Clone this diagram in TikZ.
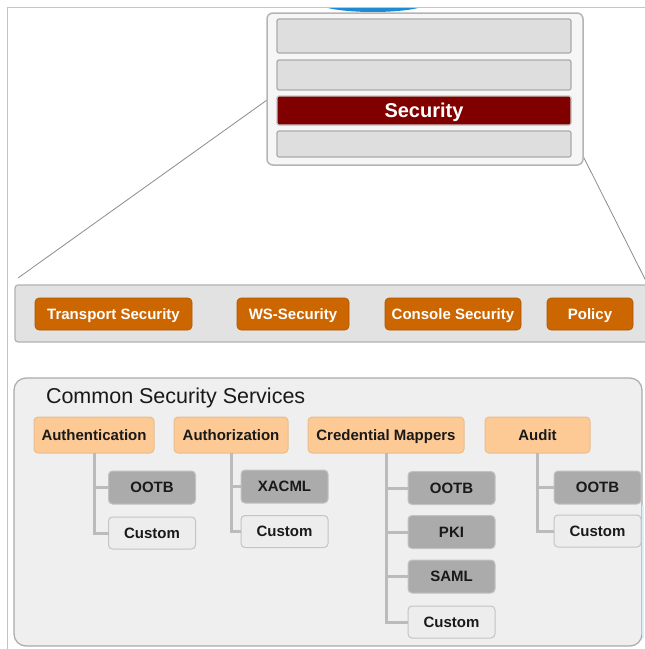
\documentclass[tikz,border=0pt]{standalone}
\usepackage{fontspec}
\setmainfont{Liberation Sans}
\definecolor{frameg}{HTML}{C4C4C4}
\definecolor{outerfill}{HTML}{F6F6F6}
\definecolor{outerline}{HTML}{B4B4B4}
\definecolor{barfill}{HTML}{DEDEDE}
\definecolor{barline}{HTML}{ABABAB}
\definecolor{secred}{HTML}{800000}
\definecolor{bandfill}{HTML}{E2E2E2}
\definecolor{bandline}{HTML}{B2B2B2}
\definecolor{btnorange}{HTML}{CC6600}
\definecolor{panelfill}{HTML}{EFEFEF}
\definecolor{panelline}{HTML}{AAAAAA}
\definecolor{peach}{HTML}{FDC995}
\definecolor{peachline}{HTML}{E8BE90}
\definecolor{darkchild}{HTML}{ABABAB}
\definecolor{darkchildline}{HTML}{C2C2C2}
\definecolor{lightchild}{HTML}{EDEDED}
\definecolor{lightchildline}{HTML}{C4C4C4}
\definecolor{conn}{HTML}{BBBBBB}
\definecolor{zoomline}{HTML}{8C8C8C}
\definecolor{arcblue}{HTML}{1E8CD2}
\tikzset{
  every node/.style={inner sep=0pt, outer sep=0pt},
  boldtext/.style={font=\fontsize{15}{18}\selectfont\bfseries, text height=10.7pt, text depth=0pt},
  barbox/.style={draw=barline, line width=1.2pt, fill=barfill, rounded corners=2pt, minimum width=294pt},
  btnbox/.style={boldtext, fill=btnorange, draw=btnorange!85!black, line width=0.6pt, rounded corners=4pt, minimum height=32pt, text=white},
  parentbox/.style={boldtext, fill=peach, draw=peachline, line width=1pt, rounded corners=4pt, minimum height=36pt, text=black!90},
  darkbox/.style={boldtext, fill=darkchild, draw=darkchildline, line width=1pt, rounded corners=4pt, minimum width=87pt, minimum height=33pt, text=black!90},
  lightbox/.style={boldtext, fill=lightchild, draw=lightchildline, line width=1pt, rounded corners=4pt, minimum width=87pt, minimum height=32pt, text=black!90},
  connector/.style={draw=conn, line width=3pt},
  zoomedge/.style={draw=zoomline, line width=0.8pt}
}
\begin{document}
\begin{tikzpicture}[x=1pt,y=-1pt]
\useasboundingbox (0,0) rectangle (645,649);
\clip (0,0) rectangle (645,649);
\fill[white] (0,0) rectangle (645,649);
% outer frame
\draw[frameg, line width=1pt] (7,649) -- (7,7) -- (645,7);
% blue arc at the top
\begin{scope}
  \clip (300,8) rectangle (450,20);
  \fill[arcblue] (373,3) ellipse [x radius=54pt, y radius=9pt];
\end{scope}
% zoom lines
\coordinate (zl1) at (267,100);
\coordinate (zl2) at (18,278);
\coordinate (zr1) at (582,154);
\coordinate (zr2) at (648,285);
\draw[zoomedge] (zl1) -- (zl2);
\draw[zoomedge] (zr1) -- (zr2);
% top box
\node[draw=outerline, line width=1.5pt, fill=outerfill, rounded corners=6pt, minimum width=316pt, minimum height=152pt] (top) at (425,89) {};
\node[barbox, minimum height=34pt] (bar1) at (424,36) {};
\node[barbox, minimum height=30pt] (bar2) at (424,75) {};
\node[barbox, draw=barline!70, fill=secred, minimum height=29pt, text=white, font=\fontsize{20}{24}\selectfont\bfseries, text height=14.3pt, text depth=0pt] (sec) at (424,110.5) {Security};
\node[barbox, minimum height=26pt] (bar4) at (424,144) {};
% middle band
\node[draw=bandline, line width=1.2pt, fill=bandfill, rounded corners=3pt, minimum width=660pt, minimum height=57pt] (band) at (345,313.5) {};
\node[btnbox, minimum width=157pt] (tsec) at (113.5,314) {Transport Security};
\node[btnbox, minimum width=112pt] (wssec) at (293,314) {WS-Security};
\node[btnbox, minimum width=136pt] (csec) at (453,314) {Console Security};
\node[btnbox, minimum width=86pt] (pol) at (590,314) {Policy};
% bottom panel
\node[draw=panelline, line width=1.2pt, fill=panelfill, rounded corners=12pt, minimum width=628pt, minimum height=268pt] (panel) at (328,512) {};
\draw[arcblue!15, line width=2pt] (643,505) -- (643,638);
\node[anchor=west, font=\fontsize{21.5}{24}\selectfont, text=black!90] (title) at (46,398) {Common Security Services};
% parents
\node[parentbox, minimum width=120pt] (authn) at (94,435) {Authentication};
\node[parentbox, minimum width=114pt] (authz) at (231,435) {Authorization};
\node[parentbox, minimum width=156pt] (cred) at (386,435) {Credential Mappers};
\node[parentbox, minimum width=105pt] (audit) at (537.5,435) {Audit};
% connectors (drawn first so the boxes cover their ends)
\path (152,487.5) coordinate (pAO) (152,533) coordinate (pAC)
      (284.5,486.5) coordinate (pZX) (284.5,531.5) coordinate (pZC)
      (451.5,488) coordinate (pCO) (451.5,532) coordinate (pCP)
      (451.5,576.5) coordinate (pCS) (451.5,622) coordinate (pCC)
      (597.5,487.5) coordinate (pUO) (597.5,531) coordinate (pUC);
\node[darkbox] (authnO) at (pAO) {OOTB};
\node[lightbox] (authnC) at (pAC) {Custom};
\node[darkbox] (authzX) at (pZX) {XACML};
\node[lightbox] (authzC) at (pZC) {Custom};
\node[darkbox] (credO) at (pCO) {OOTB};
\node[darkbox] (credP) at (pCP) {PKI};
\node[darkbox] (credS) at (pCS) {SAML};
\node[lightbox] (credC) at (pCC) {Custom};
\node[darkbox] (auditO) at (pUO) {OOTB};
\node[lightbox] (auditC) at (pUC) {Custom};
\draw[connector] (authn.south) |- (authnO.west);
\draw[connector] (authn.south) |- (authnC.west);
\draw[connector] (authz.south) |- (authzX.west);
\draw[connector] (authz.south) |- (authzC.west);
\draw[connector] (cred.south) |- (credO.west);
\draw[connector] (cred.south) |- (credP.west);
\draw[connector] (cred.south) |- (credS.west);
\draw[connector] (cred.south) |- (credC.west);
\draw[connector] (audit.south) |- (auditO.west);
\draw[connector] (audit.south) |- (auditC.west);
\end{tikzpicture}
\end{document}
